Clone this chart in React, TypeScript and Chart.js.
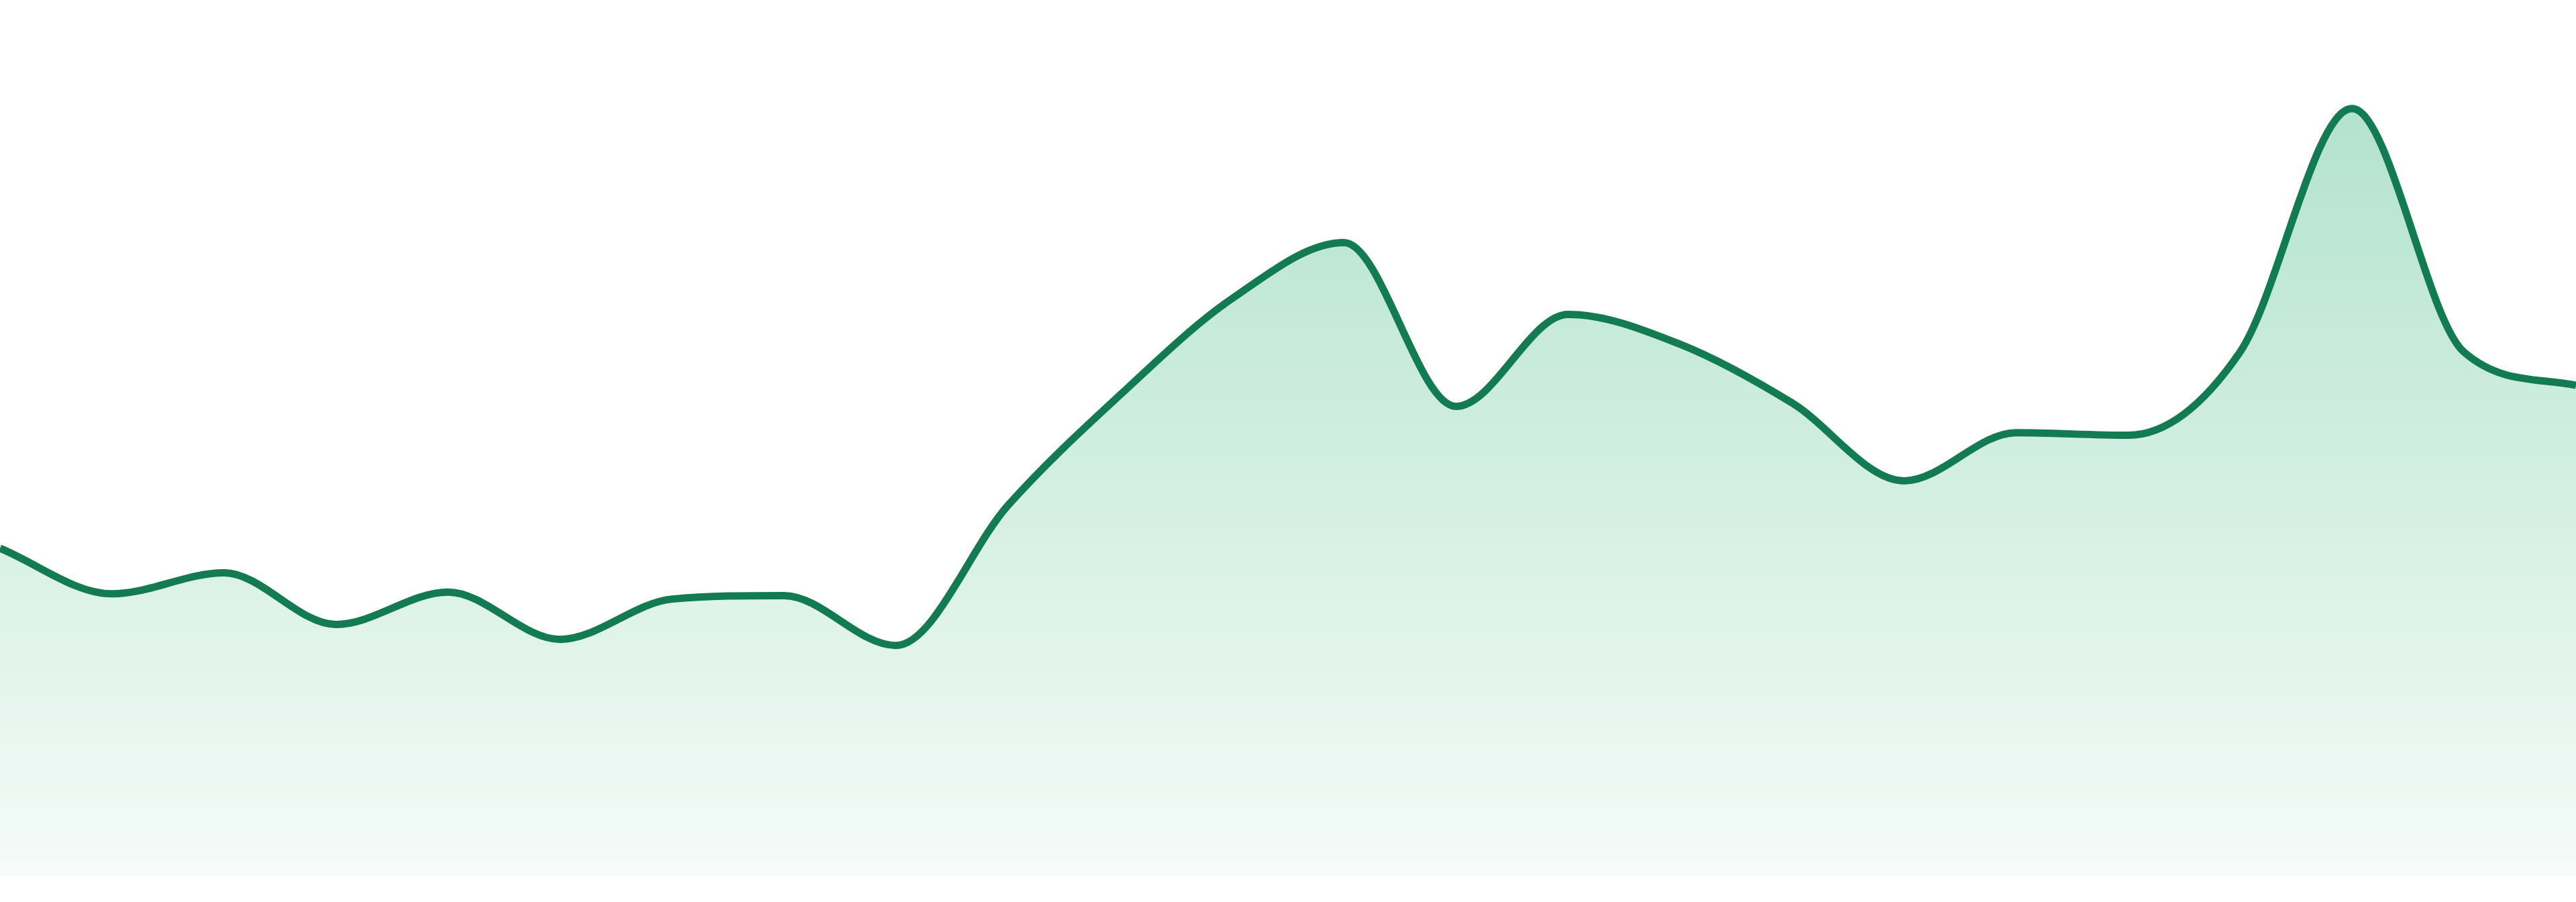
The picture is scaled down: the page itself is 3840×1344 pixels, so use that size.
import { useEffect, useRef } from "react"
import { Chart, registerables } from "chart.js"

Chart.register(...registerables)

// 24 evenly spaced samples (0..100 scale)
const labels = [
  "1", "2", "3", "4", "5", "6", "7", "8", "9", "10", "11", "12",
  "13", "14", "15", "16", "17", "18", "19", "20", "21", "22", "23", "24",
]
const values = [
  37.4, 32.2, 34.6, 28.7, 32.4, 27.0, 31.6, 32.0, 26.3, 42.3, 54.9, 65.9,
  72.3, 53.6, 64.1, 60.7, 54.0, 45.1, 50.6, 50.3, 59.8, 87.6, 59.8, 56.0,
]
const yMin = 0
const yMax = 100

const lineColor = "#127b51"

export default function App() {
  const chartRef = useRef<HTMLCanvasElement>(null)
  const chartInstance = useRef<Chart | null>(null)

  useEffect(() => {
    document.body.style.margin = "0"
    if (!chartRef.current) return

    if (chartInstance.current) {
      chartInstance.current.destroy()
    }

    const ctx = chartRef.current.getContext("2d")
    if (!ctx) return

    chartInstance.current = new Chart(ctx, {
      type: "line",
      data: {
        labels,
        datasets: [
          {
            data: values,
            borderColor: lineColor,
            borderWidth: 11,
            cubicInterpolationMode: "monotone",
            pointRadius: 0,
            pointHoverRadius: 0,
            fill: "start",
            backgroundColor: (context) => {
              const { chart } = context
              const area = chart.chartArea
              if (!area) return "rgba(52, 179, 126, 0.2)"
              const g = chart.ctx.createLinearGradient(0, area.top, 0, area.bottom)
              g.addColorStop(0, "rgba(52, 179, 126, 0.42)")
              g.addColorStop(1, "rgba(52, 179, 126, 0.05)")
              return g
            },
          },
        ],
      },
      options: {
        animation: false,
        responsive: true,
        maintainAspectRatio: false,
        layout: {
          padding: { top: 0, left: 0, right: 0, bottom: 39 },
        },
        scales: {
          x: {
            display: false,
            grid: { display: false },
          },
          y: {
            display: false,
            min: yMin,
            max: yMax,
            grid: { display: false },
          },
        },
        plugins: {
          legend: { display: false },
          tooltip: { enabled: false },
        },
      },
    })

    return () => {
      if (chartInstance.current) {
        chartInstance.current.destroy()
        chartInstance.current = null
      }
    }
  }, [])

  return (
    <div style={{ position: "fixed", left: 0, top: 0, width: "100vw", height: "100vh", background: "#fff" }}>
      <canvas ref={chartRef}></canvas>
    </div>
  )
}
